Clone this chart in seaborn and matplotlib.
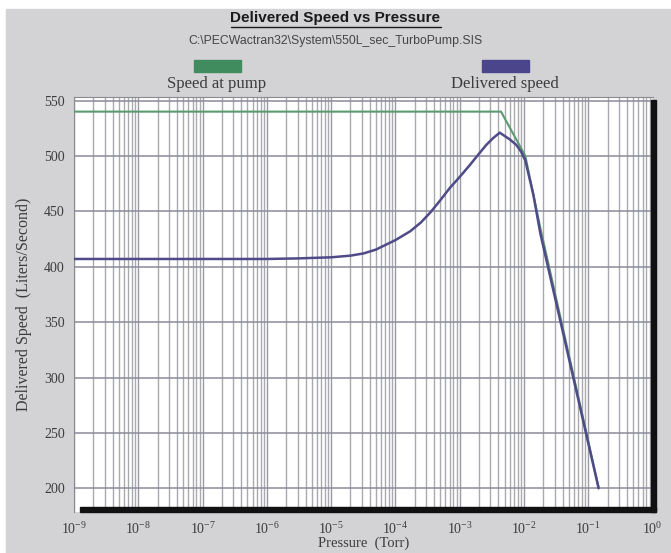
import numpy as np
import pandas as pd
import matplotlib
matplotlib.use("Agg")
import matplotlib.pyplot as plt
import seaborn as sns
from matplotlib.patches import Rectangle
from matplotlib.lines import Line2D
from matplotlib.ticker import LogLocator, MultipleLocator, FixedLocator, FixedFormatter, NullFormatter

# values: pressure in Torr, speed in L/s
pump_pressure = [1e-9, 4.4e-3, 1.05e-2, 1.8e-2, 0.145]
pump_speed = [540, 540, 500, 435, 201]

delivered_pressure = [1e-9, 1e-6, 3e-6, 1e-5, 2e-5, 3.2e-5, 5e-5, 7.2e-5, 1e-4, 1.7e-4,
                      2.5e-4, 3.5e-4, 5e-4, 7e-4, 1e-3, 1.45e-3, 2e-3, 2.6e-3,
                      3.3e-3, 4.2e-3, 6e-3, 7.6e-3, 9e-3, 1.05e-2, 1.4e-2, 1.8e-2, 0.145]
delivered_speed = [407, 407, 407.5, 408.5, 410, 412, 415.5, 420, 424, 432,
                   440, 449, 460, 471, 481, 492, 502, 510,
                   516, 521, 515, 510, 504, 496, 465, 430, 200]

series_names = ["Speed at pump", "Delivered speed"]
line_colors = ["#5b9a6e", "#4f4a88"]
legend_colors = ["#418c5f", "#4b468c"]

x_decades = list(range(-9, 1))
y_ticks = list(range(200, 551, 50))

title = "Delivered Speed vs Pressure"
subtitle = "C:\\PECWactran32\\System\\550L_sec_TurboPump.SIS"

W, H = 671, 553
GREY_BG = "#d3d3d6"
TXT = "#3c3c3c"

def fx(px):
    return px / W

def fy(py):
    return 1 - py / H

sns.set_style("white")
plt.rcParams["font.family"] = ["Liberation Serif", "DejaVu Serif"]
plt.rcParams["mathtext.fontset"] = "custom"
plt.rcParams["mathtext.rm"] = "Liberation Serif"
plt.rcParams["mathtext.it"] = "Liberation Serif:italic"

df = pd.concat([
    pd.DataFrame({"pressure": pump_pressure, "speed": pump_speed, "series": series_names[0]}),
    pd.DataFrame({"pressure": delivered_pressure, "speed": delivered_speed, "series": series_names[1]}),
])

fig = plt.figure(figsize=(W / 100, H / 100), dpi=100, facecolor="white")
fig.add_artist(Rectangle((fx(6), 0), 1 - fx(6), fy(9), transform=fig.transFigure,
                         color=GREY_BG, zorder=-10))

ax = fig.add_axes([fx(74), fy(512), fx(652.5) - fx(74), fy(97) - fy(512)])
ax.set_facecolor("white")

sns.lineplot(data=df, x="pressure", y="speed", hue="series", palette=line_colors,
             hue_order=series_names, estimator=None, sort=False, legend=False, ax=ax,
             linewidth=1.8, zorder=3)
ax.lines[0].set_linewidth(1.5)

ax.set_xscale("log")
ax.set_xlim(1e-9, 1)
ax.set_ylim(178.6, 553.2)

# axes ticks
ax.xaxis.set_major_locator(FixedLocator([10.0 ** d for d in x_decades]))
ax.xaxis.set_major_formatter(FixedFormatter([f"$10^{{{d}}}$" for d in x_decades]))
ax.xaxis.set_minor_locator(LogLocator(base=10, subs=np.arange(2, 10), numticks=100))
ax.xaxis.set_minor_formatter(NullFormatter())
ax.yaxis.set_major_locator(FixedLocator(y_ticks))
ax.yaxis.set_minor_locator(MultipleLocator(10))

ax.tick_params(axis="x", which="major", direction="out", length=4.5, width=0.8,
               color="#8a8a90", labelsize=10, labelcolor=TXT, pad=2)
ax.tick_params(axis="x", which="minor", length=0)
ax.tick_params(axis="y", which="major", direction="out", length=4.5, width=0.8,
               color="#8a8a90", labelsize=10, labelcolor=TXT, pad=2)
ax.tick_params(axis="y", which="minor", direction="in", length=4, width=0.8, color="#8a8a90")

ax.grid(which="major", axis="x", color="#9a9aa4", linewidth=1.0)
ax.grid(which="minor", axis="x", color="#a9a9b2", linewidth=1.0)
ax.grid(which="major", axis="y", color="#8c8c9c", linewidth=1.1)
ax.set_axisbelow(True)

for side in ["top", "left"]:
    ax.spines[side].set_color("#8a8a90")
    ax.spines[side].set_linewidth(0.8)
for side in ["bottom", "right"]:
    ax.spines[side].set_visible(False)

# dark drop-shadow frame on bottom and right
ax_w, ax_h = 652.5 - 74, 512 - 97
ax.add_patch(Rectangle(((80 - 74) / ax_w, 0), (656 - 80) / ax_w, 5 / ax_h,
                       transform=ax.transAxes, color="#111111", clip_on=False, zorder=6))
ax.add_patch(Rectangle(((651 - 74) / ax_w, 0), 5 / ax_w, (512 - 100) / ax_h,
                       transform=ax.transAxes, color="#111111", clip_on=False, zorder=6))

ax.set_xlabel("Pressure  (Torr)", fontsize=10.5, color=TXT, labelpad=0)
ax.set_ylabel("Delivered Speed  (Liters/Second)", fontsize=11.5, color=TXT, labelpad=9)

# titles
t = fig.text(0.5, fy(18), title, ha="center", va="center", fontsize=11,
             fontweight="bold", family=["Liberation Sans", "DejaVu Sans"], color="#1a1a1a")
fig.text(0.5, fy(41), subtitle, ha="center", va="center", fontsize=8.8,
         family=["Liberation Sans", "DejaVu Sans"], color="#444444")

# legend: swatch above label
legend_x = [217, 505]
for name, col, cx in zip(series_names, legend_colors, legend_x):
    fig.add_artist(Rectangle((fx(cx - 23.5), fy(72)), 47 / W, 12 / H,
                             transform=fig.transFigure, color=col))
    fig.text(fx(cx), fy(84), name, ha="center", va="center", fontsize=12, color=TXT)

# underline the title
fig.canvas.draw()
bb = t.get_window_extent(fig.canvas.get_renderer())
x0, y0 = fig.transFigure.inverted().transform((bb.x0, bb.y0 - 1.5))
x1, _ = fig.transFigure.inverted().transform((bb.x1, bb.y0 - 1.5))
fig.add_artist(Line2D([x0, x1], [y0, y0], transform=fig.transFigure, color="#1a1a1a", linewidth=1.0))

fig.savefig("out.png", dpi=100, facecolor=fig.get_facecolor())
plt.close(fig)
